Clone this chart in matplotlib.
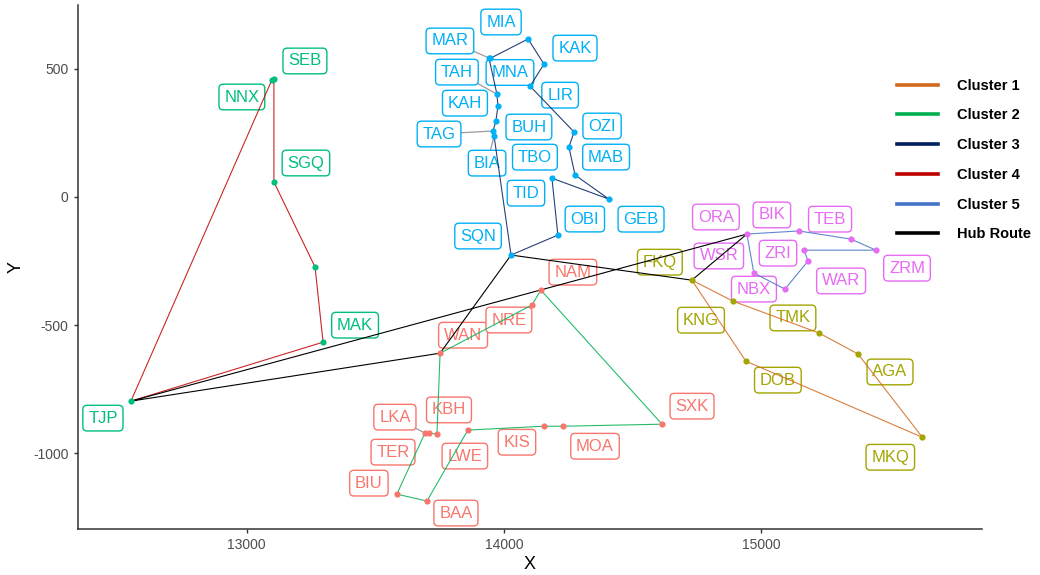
import matplotlib.pyplot as plt
from matplotlib.lines import Line2D

plt.rcParams['font.family'] = ['Liberation Sans', 'DejaVu Sans']
plt.rcParams['axes.unicode_minus'] = False

# stops of each cluster in visiting order; the first stop is the cluster hub
c1_names = ["FKQ", "KNG", "TMK", "AGA", "MKQ", "DOB"]
c1_x = [14731, 14891, 15225, 15377, 15627, 14941]
c1_y = [-325, -407, -531, -613, -938, -641]

c2_names = ["WAN", "NRE", "NAM", "SXK", "MOA", "KIS", "LWE", "BAA", "BIU", "LKA", "TER", "KBH"]
c2_x = [13752, 14109, 14144, 14615, 14230, 14156, 13860, 13701, 13584, 13693, 13709, 13740]
c2_y = [-610, -422, -364, -887, -895, -895, -910, -1187, -1160, -922, -922, -925]

c3_names = ["SQN", "BIA", "TAG", "BUH", "KAH", "TAH", "MAR", "MNA", "MIA", "KAK", "LIR",
            "OZI", "TBO", "MAB", "GEB", "TID", "OBI"]
c3_x = [14028, 13962, 13958, 13969, 13977, 13973, 13942, 13946, 14094, 14156, 14102,
        14273, 14253, 14277, 14409, 14187, 14210]
c3_y = [-227, 237, 257, 296, 354, 401, 542, 540, 616, 518, 432,
        253, 194, 85, -9, 73, -149]

c4_names = ["TJP", "NNX", "SEB", "SGQ", "", "MAK"]
c4_x = [12550, 13098, 13106, 13106, 13266, 13297]
c4_y = [-797, 456, 460, 58, -274, -567]

c5_names = ["ORA", "BIK", "TEB", "ZRM", "ZRI", "WAR", "NBX", "WSR"]
c5_x = [14945, 15147, 15350, 15447, 15167, 15183, 15093, 14972]
c5_y = [-145, -133, -165, -208, -208, -250, -360, -297]

hub_order = ["TJP", "WAN", "SQN", "FKQ", "ORA"]

route_labels = ["Cluster 1", "Cluster 2", "Cluster 3", "Cluster 4", "Cluster 5", "Hub Route"]
route_colors = ["#D2691E", "#00B050", "#002060", "#C00000", "#4472C4", "black"]
point_colors = ["#A3A500", "#F8766D", "#00B0F6", "#00BF7D", "#E76BF3"]

# label placement (pixels from the point) and which labels get a leader segment
label_offset = {
    "TJP": (-28, -17), "NNX": (-30, -17), "SEB": (31, 18), "SGQ": (32, 19), "MAK": (32, 17),
    "WAN": (23, 18), "NRE": (-23, -15), "NAM": (32, 18), "SXK": (30, 18), "MOA": (32, -20),
    "KIS": (-27, -16), "LWE": (-3, -26), "BAA": (29, -12), "BIU": (-28, 11), "LKA": (-30, 16),
    "TER": (-36, -19), "KBH": (12, 24),
    "FKQ": (-32, 18), "KNG": (-32, -19), "TMK": (-26, 15), "AGA": (32, -18), "MKQ": (-32, -20),
    "DOB": (32, -19),
    "ORA": (-31, 17), "BIK": (-27, 16), "TEB": (-21, 20), "ZRM": (31, -18), "ZRI": (-26, -3),
    "WAR": (33, -20), "NBX": (-31, 0), "WSR": (-35, 17),
    "SQN": (-33, 19), "BIA": (-7, -27), "TAG": (-54, -3), "BUH": (33, -6), "KAH": (-33, 3),
    "TAH": (-40, 22), "MAR": (-39, 17), "MNA": (20, -14), "MIA": (-27, 17), "KAK": (31, 16),
    "LIR": (30, -9), "OZI": (28, 6), "TBO": (-34, -10), "MAB": (31, 18), "GEB": (32, -20),
    "TID": (-26, -15), "OBI": (27, 16),
}
with_segment = {"MAR", "TAH", "TAG", "BIA", "LKA"}

clusters = [
    (c1_names, c1_x, c1_y),
    (c2_names, c2_x, c2_y),
    (c3_names, c3_x, c3_y),
    (c4_names, c4_x, c4_y),
    (c5_names, c5_x, c5_y),
]

fig = plt.figure(figsize=(10.4, 5.75), dpi=100)
ax = fig.add_axes([0.0747, 0.080, 0.8695, 0.911])

hub_xy = {}
for i, (names, xs, ys) in enumerate(clusters):
    ax.plot(list(xs) + [xs[0]], list(ys) + [ys[0]], color=route_colors[i], lw=0.8,
            alpha=0.85, zorder=3)
    ax.scatter(xs, ys, s=20, color=point_colors[i], linewidths=0, zorder=4)
    for n, x, y in zip(names, xs, ys):
        hub_xy[n] = (x, y)
        if not n:
            continue
        arrow = None
        if n in with_segment:
            arrow = dict(arrowstyle='-', color='#9A9A9A', lw=0.9, shrinkA=0, shrinkB=2)
        ax.annotate(n, (x, y), xytext=label_offset[n], textcoords='offset pixels',
                    ha='center', va='center', fontsize=12, color=point_colors[i],
                    bbox=dict(boxstyle='round,pad=0.32,rounding_size=0.25', fc='white',
                              ec=point_colors[i], lw=1.0),
                    arrowprops=arrow, zorder=2)

# tour linking the hubs
hx = [hub_xy[h][0] for h in hub_order] + [hub_xy[hub_order[0]][0]]
hy = [hub_xy[h][1] for h in hub_order] + [hub_xy[hub_order[0]][1]]
ax.plot(hx, hy, color='black', lw=0.8, zorder=3)

ax.set_xlim(12343, 15859)
ax.set_ylim(-1296, 748)
ax.set_xticks([13000, 14000, 15000])
ax.set_yticks([-1000, -500, 0, 500])
for side in ['top', 'right']:
    ax.spines[side].set_visible(False)
for side in ['left', 'bottom']:
    ax.spines[side].set_color('#333333')
    ax.spines[side].set_linewidth(1.1)
ax.tick_params(colors='#333333', labelcolor='#4D4D4D', labelsize=10, length=3, width=1)
ax.set_xlabel("X", fontsize=13, labelpad=3)
ax.set_ylabel("Y", fontsize=13, labelpad=6)

handles = [Line2D([], [], color=c, lw=2.6) for c in route_colors]
fig.legend(handles, route_labels, loc='center left', bbox_to_anchor=(0.8625, 0.7217),
           frameon=False, prop=dict(weight='bold', size=10.5), handlelength=2.8,
           handletextpad=1.3, labelspacing=1.08, borderpad=0, borderaxespad=0)

fig.savefig("out.png", dpi=100)
